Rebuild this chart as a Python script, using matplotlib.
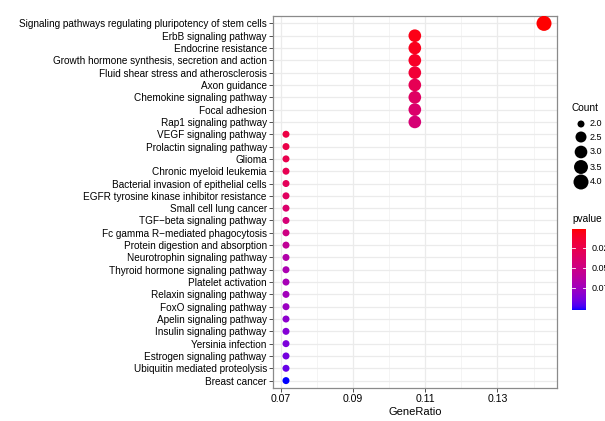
import numpy as np
import matplotlib
matplotlib.use("Agg")
import matplotlib.pyplot as plt
from matplotlib.colors import ListedColormap, Normalize

plt.rcParams['font.family'] = ['Liberation Sans', 'DejaVu Sans']

pathways = [
    "Signaling pathways regulating pluripotency of stem cells",
    "ErbB signaling pathway",
    "Endocrine resistance",
    "Growth hormone synthesis, secretion and action",
    "Fluid shear stress and atherosclerosis",
    "Axon guidance",
    "Chemokine signaling pathway",
    "Focal adhesion",
    "Rap1 signaling pathway",
    "VEGF signaling pathway",
    "Prolactin signaling pathway",
    "Glioma",
    "Chronic myeloid leukemia",
    "Bacterial invasion of epithelial cells",
    "EGFR tyrosine kinase inhibitor resistance",
    "Small cell lung cancer",
    "TGF\u2212beta signaling pathway",
    "Fc gamma R\u2212mediated phagocytosis",
    "Protein digestion and absorption",
    "Neurotrophin signaling pathway",
    "Thyroid hormone signaling pathway",
    "Platelet activation",
    "Relaxin signaling pathway",
    "FoxO signaling pathway",
    "Apelin signaling pathway",
    "Insulin signaling pathway",
    "Yersinia infection",
    "Estrogen signaling pathway",
    "Ubiquitin mediated proteolysis",
    "Breast cancer",
]
gene_ratio = [0.1429] + [0.1071] * 8 + [0.0714] * 21
counts = [4] + [3] * 8 + [2] * 21
pvalues = [0.0013,
           0.0054, 0.0074, 0.0104, 0.0165, 0.0286, 0.0347, 0.0387, 0.0428,
           0.0215, 0.0236, 0.0256, 0.0276, 0.0306, 0.0337, 0.0387, 0.0438,
           0.0489, 0.058, 0.066, 0.070, 0.072, 0.074, 0.077, 0.082, 0.085,
           0.0873, 0.0893, 0.0924, 0.1025]
x_ticks = [0.07, 0.09, 0.11, 0.13]
size_breaks = [2.0, 2.5, 3.0, 3.5, 4.0]
p_breaks = [0.025, 0.050, 0.075]


# red -> blue gradient interpolated in Lab, like ggplot
def srgb_to_lab(rgb):
    c = np.array(rgb, dtype=float)
    c = np.where(c > 0.04045, ((c + 0.055) / 1.055) ** 2.4, c / 12.92)
    m = np.array([[0.4124, 0.3576, 0.1805],
                  [0.2126, 0.7152, 0.0722],
                  [0.0193, 0.1192, 0.9505]])
    xyz = m @ c / np.array([0.95047, 1.0, 1.08883])
    f = np.where(xyz > 0.008856, np.cbrt(xyz), 7.787 * xyz + 16 / 116)
    return np.array([116 * f[1] - 16, 500 * (f[0] - f[1]), 200 * (f[1] - f[2])])


def lab_to_srgb(lab):
    L, a, b = lab
    fy = (L + 16) / 116
    fx = fy + a / 500
    fz = fy - b / 200
    f = np.array([fx, fy, fz])
    xyz = np.where(f ** 3 > 0.008856, f ** 3, (f - 16 / 116) / 7.787)
    xyz = xyz * np.array([0.95047, 1.0, 1.08883])
    minv = np.array([[3.2406, -1.5372, -0.4986],
                     [-0.9689, 1.8758, 0.0415],
                     [0.0557, -0.2040, 1.0570]])
    c = minv @ xyz
    c = np.where(c > 0.0031308, 1.055 * np.abs(c) ** (1 / 2.4) - 0.055, 12.92 * c)
    return np.clip(c, 0, 1)


lab_lo = srgb_to_lab([1, 0, 0])
lab_hi = srgb_to_lab([0, 0, 1])
cmap = ListedColormap([lab_to_srgb(lab_lo + t * (lab_hi - lab_lo))
                       for t in np.linspace(0, 1, 256)])
norm = Normalize(vmin=min(pvalues), vmax=max(pvalues))


def dot_size(c):
    # diameter in px, area-scaled between 7 and 15 px
    d = 7 + np.sqrt((np.asarray(c) - 2.0) / 2.0) * 8
    return (d * 0.72) ** 2


W, H = 605, 421
fig = plt.figure(figsize=(W / 100, H / 100), dpi=100)
ax = fig.add_axes([273 / W, 1 - 388 / H, (557 - 273) / W, (388 - 16) / H])

n = len(pathways)
ypos = np.arange(n)[::-1] + 1
ax.scatter(gene_ratio, ypos, s=dot_size(counts), c=pvalues, cmap=cmap, norm=norm,
           linewidths=0, zorder=3)

ax.set_xlim(0.0678, 0.1465)
ax.set_ylim(0.4, n + 0.6)
ax.set_xticks(x_ticks)
ax.set_xticklabels([f"{v:.2f}" for v in x_ticks])
ax.set_xticks([0.08, 0.10, 0.12, 0.14], minor=True)
ax.set_yticks(ypos)
ax.set_yticklabels(pathways)
ax.tick_params(axis='both', which='major', length=3, width=0.6, color='#333333',
               labelsize=7.2, labelcolor='black', pad=1.5)
ax.tick_params(axis='x', labelsize=7.6)
ax.tick_params(axis='x', which='minor', length=0)
ax.grid(True, which='major', color='#EBEBEB', linewidth=0.9, zorder=0)
ax.grid(True, which='minor', axis='x', color='#F2F2F2', linewidth=0.6, zorder=0)
for sp in ax.spines.values():
    sp.set_color('#8a8a8a')
    sp.set_linewidth(0.9)
ax.set_xlabel("GeneRatio", fontsize=8, labelpad=2)

# size legend
fig.text(572 / W, 1 - 108 / H, "Count", fontsize=7.3, va='center', ha='left')
lax = fig.add_axes([0, 0, 1, 1], facecolor='none')
lax.set_xlim(0, W)
lax.set_ylim(H, 0)
lax.axis('off')
leg_y = [124, 137, 152, 167, 182]
lax.scatter([581] * len(size_breaks), leg_y, s=dot_size(size_breaks), color='black',
            linewidths=0)
for yy, v in zip(leg_y, size_breaks):
    lax.text(590, yy, f"{v:.1f}", fontsize=6.5, va='center', ha='left')

# colour bar
fig.text(572 / W, 1 - 219 / H, "pvalue", fontsize=7.3, va='center', ha='left')
cax = fig.add_axes([572 / W, 1 - 310 / H, 14 / W, 81 / H])
cb = fig.colorbar(plt.cm.ScalarMappable(norm=norm, cmap=cmap), cax=cax)
cax.invert_yaxis()
cb.outline.set_visible(False)
cb.set_ticks(p_breaks)
cb.set_ticklabels([f"{v:.3f}" for v in p_breaks])
cax.tick_params(length=0, labelsize=6.5, pad=4)
for v in p_breaks:
    cax.plot([0, 0.2], [v, v], color='white', lw=0.6, transform=cax.get_yaxis_transform())
    cax.plot([0.8, 1], [v, v], color='white', lw=0.6, transform=cax.get_yaxis_transform())

fig.savefig("out.png", dpi=100)
